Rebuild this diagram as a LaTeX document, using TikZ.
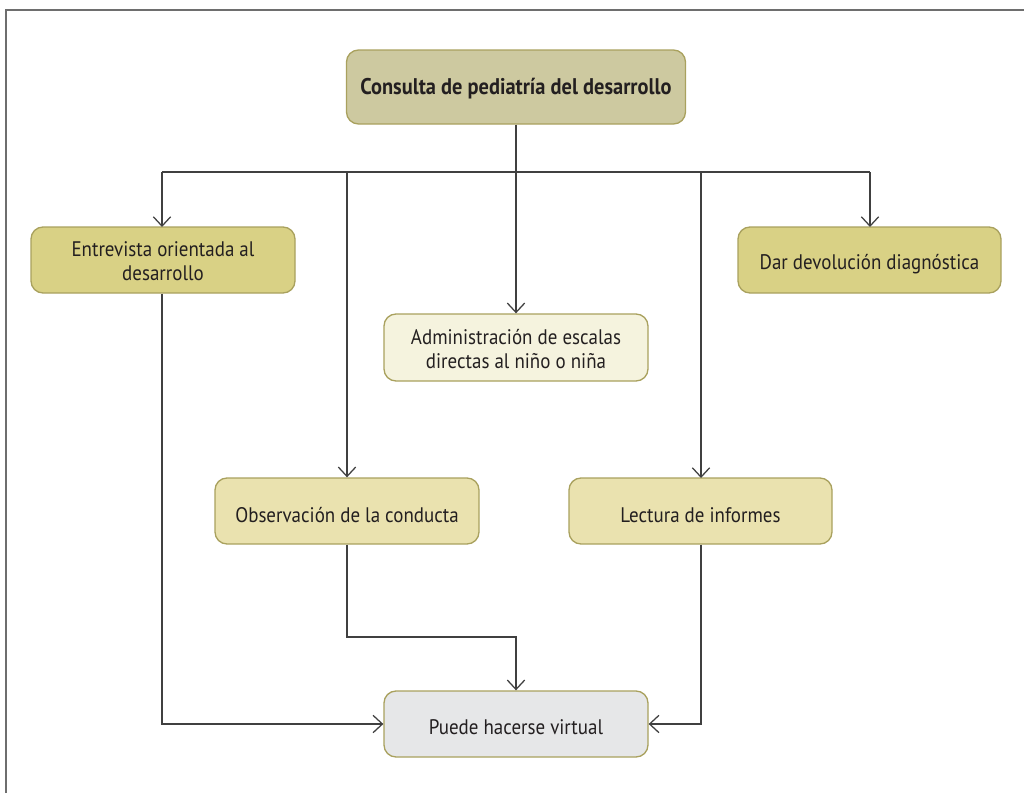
\documentclass[tikz,border=0pt]{standalone}
\usepackage{fontspec}
\setmainfont[FakeStretch=0.9]{PT Sans}
\usetikzlibrary{arrows.meta}
\definecolor{txt}{HTML}{231F20}
\definecolor{edge}{HTML}{A9A15E}
\definecolor{ftop}{HTML}{CDC9A0}
\definecolor{fdark}{HTML}{D9D185}
\definecolor{flight}{HTML}{F5F3DE}
\definecolor{fmid}{HTML}{EAE2AF}
\definecolor{fgray}{HTML}{E6E7E8}
\definecolor{wire}{HTML}{404040}
\definecolor{frame}{HTML}{6E6E6E}
\newcommand{\lowr}[2]{\raisebox{-#1}[\height][\depth]{#2}}
\tikzset{
  box/.style={draw=edge, line width=1pt, rounded corners=9pt, align=center,
    text=txt, font=\fontsize{15.8}{18}\selectfont, inner sep=0pt},
  conn/.style={draw=wire, line width=0.95pt, -{Straight Barb[length=7pt,width=13pt,line width=0.95pt]}},
  plain/.style={draw=wire, line width=0.95pt},
}
\begin{document}
\begin{tikzpicture}[x=0.75pt,y=-0.75pt]
\useasboundingbox (0,0) rectangle (1024,793);
\draw[frame, line width=1.5pt] (6,793) -- (6,10) -- (1024,10);
\node[box, fill=ftop, minimum width=254.25pt, minimum height=55.5pt, font=\fontsize{17}{18}\selectfont\bfseries] (top) at (516,87) {\lowr{1.5pt}{Consulta de pediatría del desarrollo}};
\node[box, fill=fdark, minimum width=198pt, minimum height=49.5pt] (ent) at (163,260) {\lowr{3pt}{\begin{tabular}{@{}c@{}}Entrevista orientada al\\desarrollo\end{tabular}}};
\node[box, fill=fdark, minimum width=197.25pt, minimum height=49.5pt] (dar) at (869.5,260) {\lowr{3pt}{Dar devolución diagnóstica}};
\node[box, fill=flight, minimum width=198pt, minimum height=50.25pt] (adm) at (516,347.5) {\lowr{3pt}{\begin{tabular}{@{}c@{}}Administración de escalas\\directas al niño o niña\end{tabular}}};
\node[box, fill=fmid, minimum width=198pt, minimum height=49.5pt] (obs) at (347,511) {\lowr{3pt}{Observación de la conducta}};
\node[box, fill=fmid, minimum width=197.25pt, minimum height=49.5pt] (lec) at (700.5,511) {\lowr{3pt}{Lectura de informes}};
\node[box, fill=fgray, minimum width=198pt, minimum height=49.5pt] (pue) at (516,724) {\lowr{2pt}{Puede hacerse virtual}};
\coordinate (hub) at (516,172);
\draw[plain] (top.south) -- (hub);
\draw[plain] (162,172) -- (870,172);
\draw[conn] (162,172) -- (162,227);
\draw[conn] (870,172) -- (870,227);
\draw[conn] (347,172) -- (obs.north);
\draw[conn] (701,172) -- (701,478);
\draw[conn] (hub) -- (adm.north);
\draw[conn] (ent.south -| 162,0) -- (162,724) -- (pue.west);
\draw[conn] (obs.south) -- (347,637) -- (516,637) -- (pue.north);
\draw[conn] (lec.south -| 701,0) -- (701,724) -- (pue.east);
\end{tikzpicture}
\end{document}
